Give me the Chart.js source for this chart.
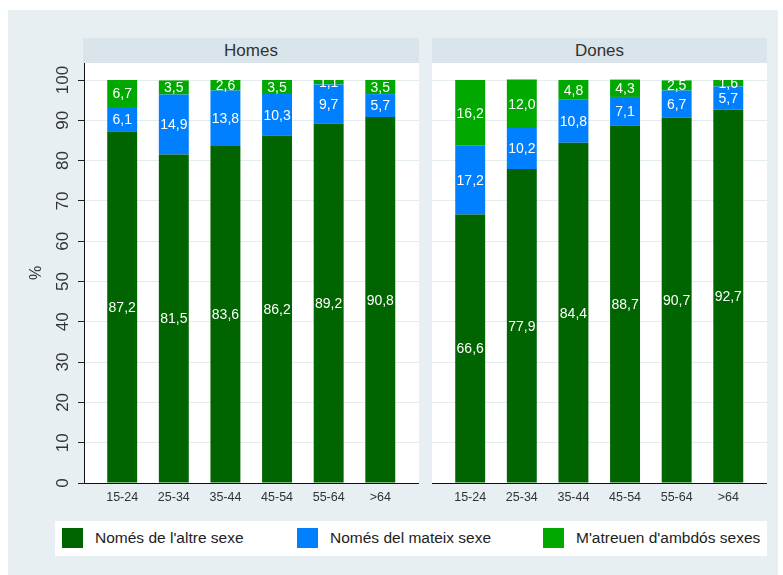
<!DOCTYPE html>
<html>
<head>
<meta charset="utf-8">
<script src="https://cdn.jsdelivr.net/npm/chart.js@4"></script>
<style>
  body { margin: 0; background: #fff; font-family: "Liberation Sans", Arial, sans-serif; }
  #bg { position: absolute; left: 8px; top: 10px; width: 770px; height: 565px; background: #e8eff2; }
  .head { position: absolute; top: 38px; height: 25px; background: #d9e4eb; color: #333;
          font-size: 17px; line-height: 25px; text-align: center; }
  canvas { position: absolute; }
  #legend { position: absolute; left: 55px; top: 521px; width: 712px; height: 35px; background: #fff; }
  .item { position: absolute; top: 7px; height: 20px; }
  .box { position: absolute; left: 0; top: 0; width: 21px; height: 20px; }
  .txt { position: absolute; left: 33px; top: 0; line-height: 20px; font-size: 15.5px; color: #222; white-space: nowrap; }
</style>
</head>
<body>
<div id="bg"></div>
<div class="head" style="left:83px;width:336px">Homes</div>
<div class="head" style="left:432px;width:335px">Dones</div>
<canvas id="homes" width="411" height="447" style="left:8px;top:63px"></canvas>
<canvas id="dones" width="335" height="447" style="left:432px;top:63px"></canvas>
<div id="legend"></div>

<script>
// age groups
const edats = ['15-24', '25-34', '35-44', '45-54', '55-64', '>64']

// % per group
const homesAltre  = [87.2, 81.5, 83.6, 86.2, 89.2, 90.8]
const homesMateix = [6.1, 14.9, 13.8, 10.3, 9.7, 5.7]
const homesAmbdos = [6.7, 3.5, 2.6, 3.5, 1.1, 3.5]

const donesAltre  = [66.6, 77.9, 84.4, 88.7, 90.7, 92.7]
const donesMateix = [17.2, 10.2, 10.8, 7.1, 6.7, 5.7]
const donesAmbdos = [16.2, 12.0, 4.8, 4.3, 2.5, 1.6]

const yTicks = [0, 10, 20, 30, 40, 50, 60, 70, 80, 90, 100]

const seriesNames  = ["Només de l'altre sexe", "Només del mateix sexe", "M'atreuen d'ambdós sexes"]
const seriesColors = ['#006400', '#0080ff', '#00a800']

const FONT = '"Liberation Sans", Arial, sans-serif'

const fmt = v => v.toFixed(1).replace('.', ',')

// no automatic label overflow padding, the boxes are placed by hand
const noPad = s => { s.paddingTop = 0; s.paddingBottom = 0; s.paddingLeft = 0; s.paddingRight = 0 }

// white plot region behind the grid
const plotBg = {
  id: 'plotBg',
  beforeDraw(chart) {
    const a = chart.chartArea
    chart.ctx.save()
    chart.ctx.fillStyle = '#fff'
    chart.ctx.fillRect(a.left, a.top, a.right - a.left, a.bottom - a.top)
    chart.ctx.restore()
  }
}

// y tick labels standing upright (read bottom to top), like the original
const uprightTicks = {
  id: 'uprightTicks',
  afterDraw(chart, args, opts) {
    if (!opts.show) return
    const ctx = chart.ctx
    const y = chart.scales.y
    ctx.save()
    ctx.fillStyle = '#333'
    ctx.font = '17px ' + FONT
    ctx.textAlign = 'center'
    ctx.textBaseline = 'middle'
    y.ticks.forEach(t => {
      ctx.save()
      ctx.translate(y.right - 21, y.getPixelForValue(t.value))
      ctx.rotate(-Math.PI / 2)
      ctx.fillText(String(t.value), 0, 0)
      ctx.restore()
    })
    ctx.restore()
  }
}

// values written in the middle of each segment
const barLabels = {
  id: 'barLabels',
  afterDatasetsDraw(chart) {
    const ctx = chart.ctx
    const a = chart.chartArea
    const top = chart.scales.y.getPixelForValue(100)
    ctx.save()
    ctx.beginPath()
    ctx.rect(a.left, top, a.right - a.left, a.bottom - top)
    ctx.clip()
    ctx.fillStyle = '#fff'
    ctx.font = '14px ' + FONT
    ctx.textAlign = 'center'
    ctx.textBaseline = 'middle'
    chart.data.datasets.forEach((ds, i) => {
      chart.getDatasetMeta(i).data.forEach((bar, j) => {
        ctx.fillText(fmt(ds.data[j].y), bar.x, (bar.y + bar.base) / 2 + 1)
      })
    })
    ctx.restore()
  }
}

const makeChart = (id, altre, mateix, ambdos, showY) => {
  const series = [altre, mateix, ambdos]
  return new Chart(document.getElementById(id), {
    type: 'bar',
    data: {
      datasets: series.map((s, i) => ({
        label: seriesNames[i],
        data: s.map((v, j) => ({ x: j, y: v })),
        backgroundColor: seriesColors[i],
        borderWidth: 0,
        barPercentage: 0.58,
        categoryPercentage: 1
      }))
    },
    options: {
      responsive: false,
      animation: false,
      devicePixelRatio: 1,
      layout: { padding: 0 },
      plugins: {
        legend: { display: false },
        tooltip: { enabled: false },
        uprightTicks: { show: showY }
      },
      scales: {
        x: {
          type: 'linear',
          stacked: true,
          offset: false,
          min: -0.74,
          max: 5.75,
          afterBuildTicks: s => { s.ticks = edats.map((e, i) => ({ value: i })) },
          afterFit: s => { s.height = 27; noPad(s) },
          grid: { display: false, drawTicks: false, offset: false },
          border: { display: true, color: '#111', width: 1 },
          ticks: {
            callback: v => edats[v],
            font: { family: FONT, size: 12.5 },
            color: '#333',
            padding: 7,
            maxRotation: 0,
            autoSkip: false
          }
        },
        y: {
          stacked: true,
          min: 0,
          max: 104.22,
          afterBuildTicks: s => { s.ticks = yTicks.map(v => ({ value: v })) },
          afterFit: s => { s.width = showY ? 76 : 0; noPad(s) },
          grid: { color: '#e3ecef', drawTicks: showY, tickLength: 6, tickColor: '#222' },
          border: { display: showY, color: '#111', width: 1 },
          title: {
            display: showY,
            text: '%',
            color: '#333',
            font: { family: FONT, size: 16 },
            padding: { top: 19, bottom: 0 }
          },
          ticks: { display: false }
        }
      }
    },
    plugins: [plotBg, uprightTicks, barLabels]
  })
}

makeChart('homes', homesAltre, homesMateix, homesAmbdos, true)
makeChart('dones', donesAltre, donesMateix, donesAmbdos, false)

// shared legend under both panels
const legendX = [7, 242, 488]
const legend = document.getElementById('legend')
seriesNames.forEach((name, i) => {
  const item = document.createElement('div')
  item.className = 'item'
  item.style.left = legendX[i] + 'px'
  item.innerHTML = `<span class="box" style="background:${seriesColors[i]}"></span><span class="txt"></span>`
  item.querySelector('.txt').textContent = name
  legend.appendChild(item)
})
</script>
</body>
</html>
